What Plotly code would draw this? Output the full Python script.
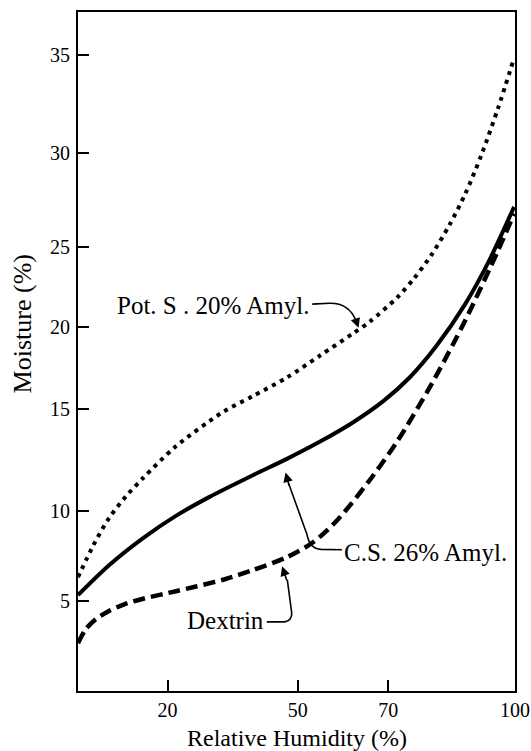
import plotly.graph_objects as go

# ---- data (Relative Humidity %, Moisture %) ----
cs_rh = [0, 7.1, 14.9, 22.4, 30.0, 40.0, 47.8, 55.4, 62.9, 70.0, 76.0, 82.0, 88.6, 94.0, 99.8]
cs_m = [5.27, 6.91, 8.40, 9.62, 10.65, 11.85, 12.75, 13.70, 14.75, 15.95, 17.25, 18.95, 21.25, 23.6, 26.6]

pot_rh = [0, 3.5, 7.1, 11.0, 14.9, 22.2, 33.0, 40.0, 47.8, 55.4, 62.9, 66.8, 73.2, 77.0, 81.0, 85.0, 88.6, 92.4, 96.1, 99.8]
pot_m = [6.25, 8.0, 9.5, 10.7, 11.7, 13.4, 15.3, 16.2, 17.22, 18.43, 19.64, 20.3, 21.65, 22.7, 24.0, 25.6, 27.3, 29.5, 32.0, 34.78]

dex_rh = [0, 1.8, 4.1, 7.1, 11.0, 14.9, 22.4, 27.0, 33.6, 40.0, 47.8, 53.8, 59.3, 66.5, 73.2, 81.0, 88.6, 96.1, 99.8]
dex_m = [2.63, 3.4, 3.95, 4.4, 4.8, 5.07, 5.48, 5.74, 6.14, 6.64, 7.35, 8.17, 9.38, 11.5, 13.77, 16.9, 20.35, 24.19, 26.22]

# tick labels and where the reference draws them along each axis
x_tick_labels = ["20", "50", "70", "100"]
x_tick_pos = [20.5, 50.3, 71.0, 100]
y_tick_labels = ["5", "10", "15", "20", "25", "30", "35"]
y_tick_pos = [4.94, 9.87, 15.47, 20.02, 24.41, 29.57, 34.94]

FONT = "Liberation Serif"

fig = go.Figure()
fig.add_trace(go.Scatter(x=pot_rh, y=pot_m, mode="lines", name="Pot. S . 20% Amyl.",
                         line=dict(color="black", width=4, dash="4px,5px", shape="spline", smoothing=0.8)))
fig.add_trace(go.Scatter(x=cs_rh, y=cs_m, mode="lines", name="C.S. 26% Amyl.",
                         line=dict(color="black", width=4, shape="spline", smoothing=0.8)))
fig.add_trace(go.Scatter(x=dex_rh, y=dex_m, mode="lines", name="Dextrin",
                         line=dict(color="black", width=4.5, dash="12px,6px", shape="spline", smoothing=0.8)))

# labels with curved leaders
labels = [
    dict(text="Pot. S . 20% Amyl.", x=53.3, y=21.2, xanchor="right",
         path="M 53.6,21.25 L 57.5,21.3 C 60.5,21.32 62.6,20.95 63.6,20.35",
         tip=(64.2, 19.95), tail=(63.4, 20.5)),
    dict(text="C.S. 26% Amyl.", x=60.4, y=7.6, xanchor="left",
         path="M 60.4,7.76 L 55.6,7.78 C 53.6,7.8 52.7,8.2 52.4,8.6 L 48.2,11.4",
         tip=(47.5, 12.0), tail=(48.4, 11.2)),
    dict(text="Dextrin", x=43.1, y=3.9, xanchor="right",
         path="M 43.2,3.8 L 47.2,3.8 C 48.5,3.82 49.0,4.05 48.9,4.3 L 47.9,6.1",
         tip=(46.7, 6.85), tail=(47.9, 6.0)),
]
for lb in labels:
    fig.add_annotation(text=lb["text"], x=lb["x"], y=lb["y"], xref="x", yref="y",
                       xanchor=lb["xanchor"], yanchor="middle", showarrow=False,
                       font=dict(family=FONT, size=25, color="black"))
    fig.add_shape(type="path", path=lb["path"], xref="x", yref="y",
                  line=dict(color="black", width=1.6))
    fig.add_annotation(text="", x=lb["tip"][0], y=lb["tip"][1], ax=lb["tail"][0], ay=lb["tail"][1],
                       xref="x", yref="y", axref="x", ayref="y", showarrow=True,
                       arrowhead=2, arrowsize=1.2, arrowwidth=1.6, arrowcolor="black", standoff=0)

# axis titles (placed as in the reference)
fig.add_annotation(text="Moisture (%)", textangle=-90, xref="paper", yref="paper",
                   x=-0.128, y=0.54, xanchor="center", yanchor="middle", showarrow=False,
                   font=dict(family=FONT, size=26, color="black"))
fig.add_annotation(text="Relative Humidity (%)", xref="paper", yref="paper",
                   x=0.5, y=-0.0685, xanchor="center", yanchor="middle", showarrow=False,
                   font=dict(family=FONT, size=24, color="black"))

axis_common = dict(showgrid=False, zeroline=False, showline=True, linecolor="black", linewidth=2,
                   mirror=True, ticks="inside", ticklen=11, tickwidth=2, tickcolor="black",
                   tickfont=dict(family=FONT, size=20, color="black"))

fig.update_xaxes(range=[0, 100], tickvals=x_tick_pos, ticktext=x_tick_labels,
                 ticklabelstandoff=0, **axis_common)
fig.update_yaxes(range=[0, 37.3], tickvals=y_tick_pos, ticktext=y_tick_labels,
                 ticklabelstandoff=2, **axis_common)

fig.update_layout(width=531, height=751, margin=dict(l=78, r=16, t=12, b=60, autoexpand=False),
                  plot_bgcolor="white", paper_bgcolor="white", showlegend=False)

fig.write_html("out.html")
